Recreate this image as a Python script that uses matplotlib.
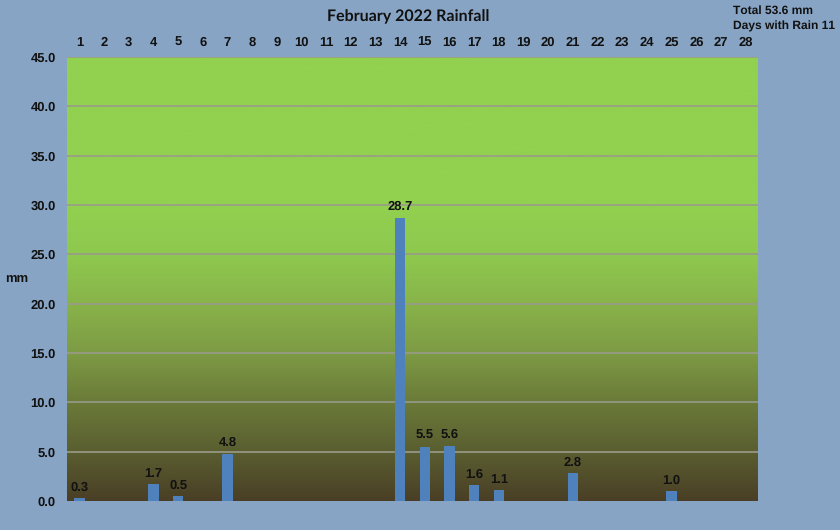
import matplotlib.pyplot as plt
import numpy as np
from matplotlib.colors import LinearSegmentedColormap

# данные
days = list(range(1, 29))
rain = [0.3, 0, 0, 1.7, 0.5, 0, 4.8, 0, 0, 0, 0, 0, 0, 28.7,
        5.5, 5.6, 1.6, 1.1, 0, 0, 2.8, 0, 0, 0, 1.0, 0, 0, 0]
y_ticks = [0, 5, 10, 15, 20, 25, 30, 35, 40, 45]
title = 'February 2022 Rainfall'
info_lines = ['Total 53.6 mm', 'Days with Rain 11']

plt.rcParams['font.family'] = ['Liberation Sans', 'DejaVu Sans']
plt.rcParams['font.weight'] = 'bold'
plt.rcParams['text.hinting'] = 'no_hinting'
plt.rcParams['text.hinting_factor'] = 1

bg = '#87a4c4'
fig = plt.figure(figsize=(8.4, 5.3), dpi=100, facecolor=bg)
ax = fig.add_axes([67 / 840, 1 - 501 / 530, 691 / 840, 444 / 530])

# градиентный фон
cmap = LinearSegmentedColormap.from_list('bg', [
    (0.0, '#4a3f26'), (0.11, '#5a5e30'), (0.22, '#6a7a38'),
    (0.33, '#7d9a44'), (0.44, '#88b24a'), (0.55, '#8ec84e'),
    (0.66, '#92d050'), (1.0, '#92d050')])
grad = np.linspace(0, 1, 256).reshape(-1, 1)
ax.imshow(grad, aspect='auto', cmap=cmap, origin='lower',
          extent=[0.5, 28.5, 0, 45], zorder=0)

ax.set_xlim(0.5, 28.5)
ax.set_ylim(0, 45)
for v in y_ticks[1:]:
    ax.axhline(v, color='#9a9a8a', lw=1.2, zorder=1)

bars = ax.bar(days, rain, width=0.42, color='#4f81bd', zorder=2)
for d, r in zip(days, rain):
    if r > 0:
        ax.text(d, r + 0.5, f'{r:.1f}', ha='center', va='bottom',
                fontsize=9, fontweight='bold', color='#111111', zorder=3)

ax.xaxis.tick_top()
ax.set_xticks(days)
ax.set_xticklabels([str(d) for d in days], fontsize=9, fontweight='bold')
ax.set_yticks(y_ticks)
ax.set_yticklabels([f'{v:.1f}' for v in y_ticks], fontsize=9, fontweight='bold')
ax.tick_params(length=0, pad=8, colors='#111111')
ax.tick_params(axis='x', pad=6)
for s in ax.spines.values():
    s.set_visible(False)

fig.text(408 / 840, 1 - 17 / 530, title, ha='center', va='center',
         fontsize=11.5, fontweight='bold', color='#111111',
         family=['Lato', 'Liberation Sans'])
fig.text(733 / 840, 1 - 11 / 530, info_lines[0], ha='left', va='center',
         fontsize=8.4, fontweight='bold', color='#111111')
fig.text(733 / 840, 1 - 26 / 530, info_lines[1], ha='left', va='center',
         fontsize=8.4, fontweight='bold', color='#111111')
fig.text(17 / 840, 1 - 279 / 530, 'mm', ha='center', va='center',
         fontsize=9, fontweight='bold', color='#111111')

fig.savefig('out.png', dpi=100, facecolor=bg)
